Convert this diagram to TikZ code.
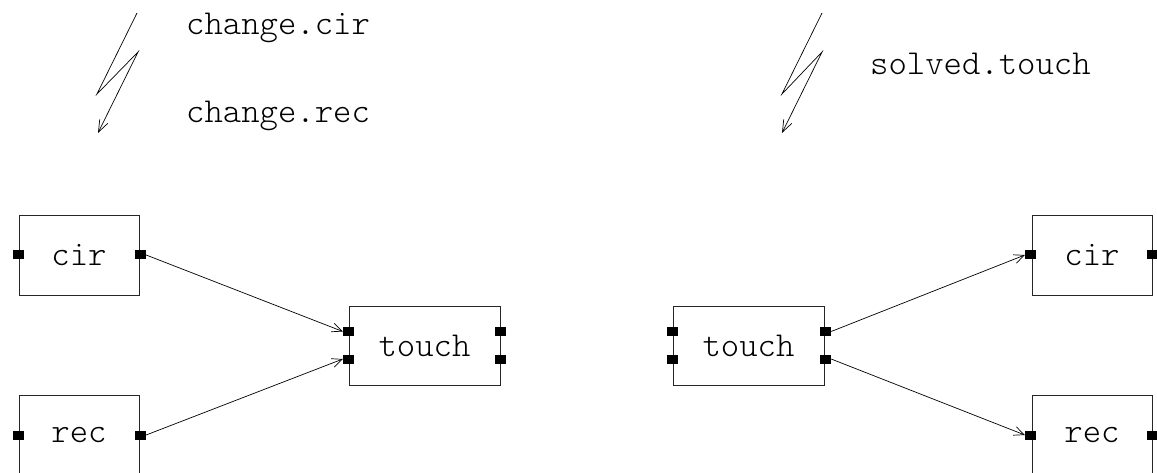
\documentclass[tikz,border=0pt]{standalone}
\usepackage{fontspec}
\setmonofont{Latin Modern Mono Light}
\usetikzlibrary{arrows.meta}
\begin{document}
\begin{tikzpicture}[x=1pt,y=-1pt,
  block/.style={draw=black!85, line width=0.9pt, inner sep=0pt,
    font=\ttfamily\fontsize{35}{35}\selectfont},
  small/.style={block, minimum width=120pt, minimum height=80pt},
  wide/.style={block, minimum width=151pt, minimum height=79pt},
  port/.style={fill=black, draw=none, minimum width=11pt, minimum height=9pt, inner sep=0pt},
  conn/.style={line width=0.7pt, -{Straight Barb[length=10pt,width=9pt,line width=0.7pt]}},
  bolt/.style={line width=0.7pt, -{Straight Barb[length=12pt,width=9pt,line width=0.7pt]}},
  event/.style={anchor=base west, inner sep=0pt, font=\ttfamily\fontsize{35}{35}\selectfont}]
\useasboundingbox (0,0) rectangle (1157,473);

% ---- left: two sources feeding touch ----
\node[small] (cirL) at (79,255) {cir};
\node[small] (recL) at (79,435) {rec};
\node[wide] (touchL) at (424.5,345.5) {touch};

\node[port] (cirLin)  at (cirL.west) {};
\node[port] (cirLout) at ([xshift=1pt]cirL.east) {};
\node[port] (recLin)  at (recL.west) {};
\node[port] (recLout) at ([xshift=1pt]recL.east) {};
\node[port] (touchLa) at ([yshift=14pt]touchL.west) {};
\node[port] (touchLb) at ([yshift=-13.5pt]touchL.west) {};
\node[port] (touchLc) at ([yshift=14pt]touchL.east) {};
\node[port] (touchLd) at ([yshift=-13.5pt]touchL.east) {};

\draw[conn] (cirLout.east) -- (touchLa.west);
\draw[conn] (recLout.east) -- (touchLb.west);

% ---- right: touch feeding two sinks ----
\node[wide] (touchR) at (748.5,345.5) {touch};
\node[small] (cirR) at (1092,255) {cir};
\node[small] (recR) at (1092,435) {rec};

\node[port] (touchRa) at ([yshift=14pt]touchR.west) {};
\node[port] (touchRb) at ([yshift=-13.5pt]touchR.west) {};
\node[port] (touchRc) at ([xshift=1pt,yshift=14pt]touchR.east) {};
\node[port] (touchRd) at ([xshift=1pt,yshift=-13.5pt]touchR.east) {};
\node[port] (cirRin)  at ([xshift=-1pt]cirR.west) {};
\node[port] (cirRout) at (cirR.east) {};
\node[port] (recRin)  at ([xshift=-1pt]recR.west) {};
\node[port] (recRout) at (recR.east) {};

\draw[conn] (touchRc.east) -- (cirRin.west);
\draw[conn] (touchRd.east) -- (recRin.west);

% ---- event bolts and their labels ----
\draw[bolt] (137,13) -- (97,94) -- (138,52) -- (98,133);
\node[event] (evA) at (186,35) {change.cir};
\node[event] (evB) at (186,123) {change.rec};

\draw[bolt] (822,13) -- (782,94) -- (822,52) -- (782,133);
\node[event] (evC) at (870,75) {solved.touch};
\end{tikzpicture}
\end{document}
